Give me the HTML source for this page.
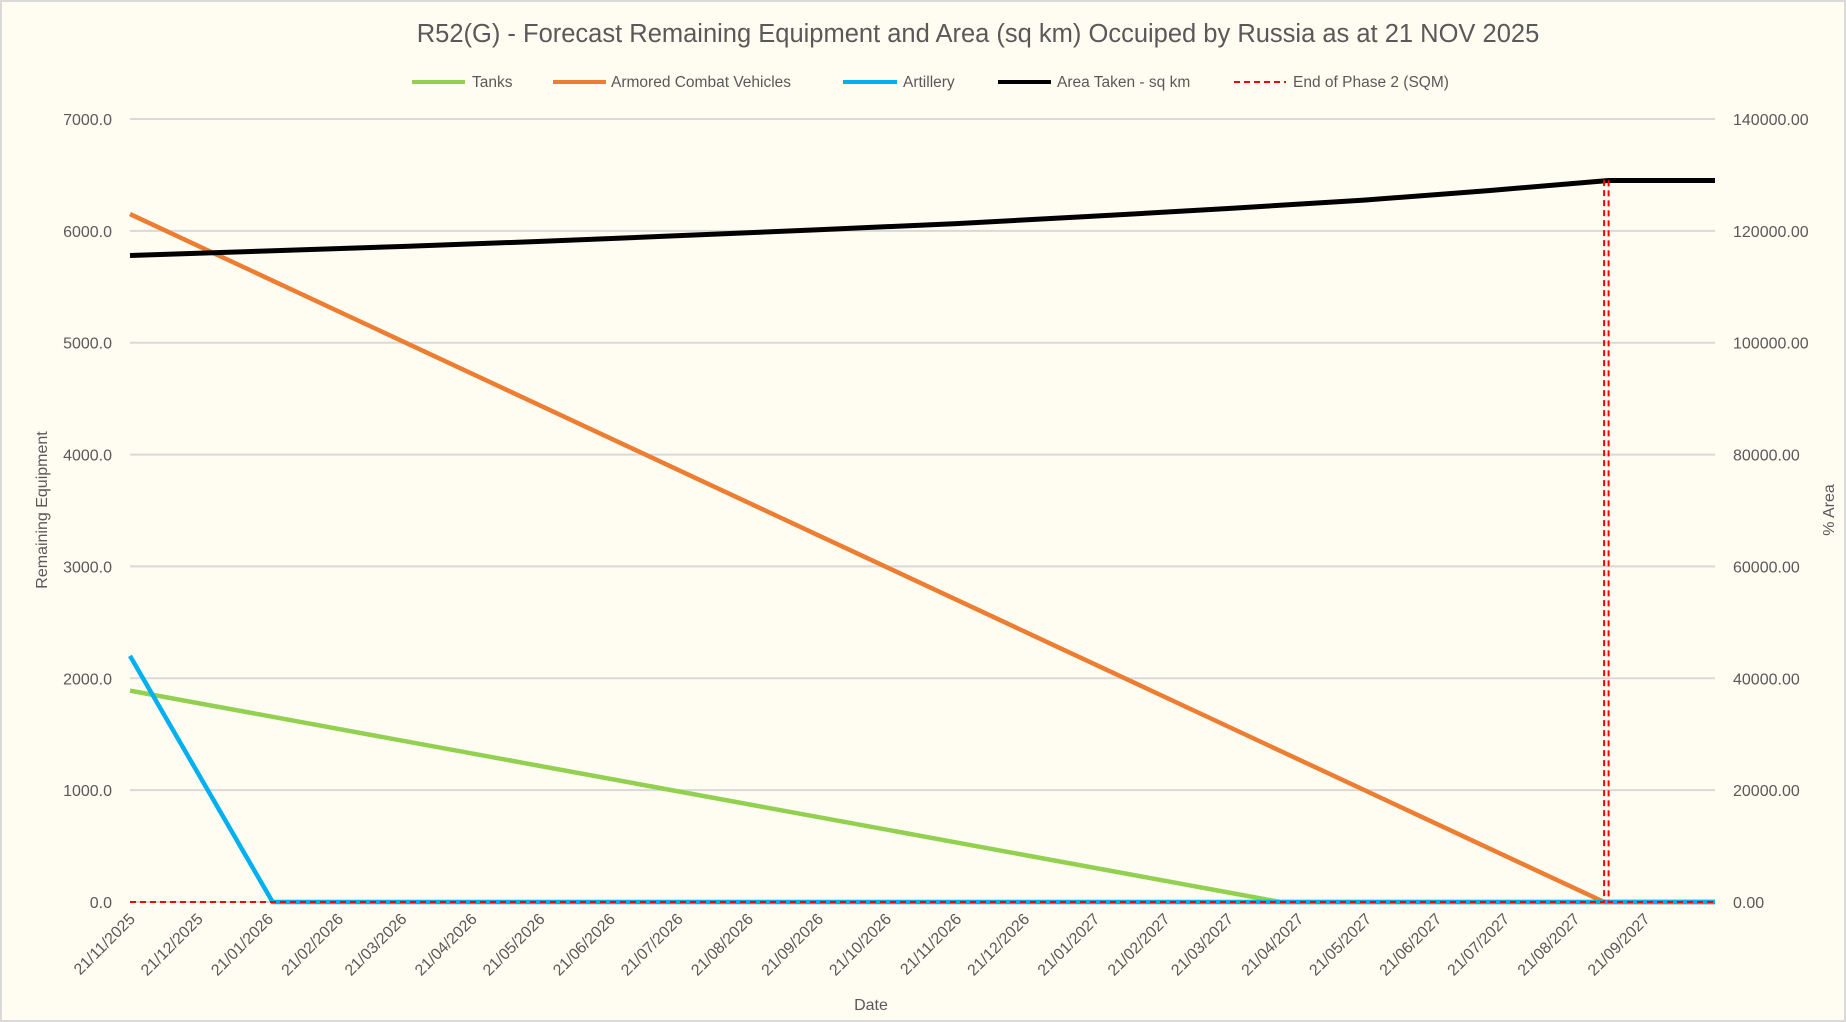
<!DOCTYPE html>
<html><head><meta charset="utf-8">
<style>
html,body{margin:0;padding:0;background:#fff;}
svg{display:block;font-family:"Liberation Sans",sans-serif;}
</style></head>
<body>
<svg id="chart" width="1846" height="1022" viewBox="0 0 1846 1022">
<rect x="1" y="1" width="1844" height="1020" fill="#fffcf2" stroke="#d9d9d9" stroke-width="2"/>
<text x="978" y="42" text-anchor="middle" font-size="25.5" fill="#595959">R52(G) - Forecast Remaining Equipment and Area (sq km) Occuiped by Russia as at 21 NOV 2025</text>
<g id="legend" font-size="15.5" fill="#595959">
 <g><line x1="412" y1="82" x2="465" y2="82" stroke="#92d050" stroke-width="4"/><text x="472" y="87">Tanks</text></g>
 <g><line x1="553" y1="82" x2="606" y2="82" stroke="#ed7d31" stroke-width="4"/><text x="611" y="87">Armored Combat Vehicles</text></g>
 <g><line x1="843" y1="82" x2="897" y2="82" stroke="#00b0f0" stroke-width="4"/><text x="903" y="87">Artillery</text></g>
 <g><line x1="998" y1="82" x2="1051" y2="82" stroke="#000" stroke-width="4"/><text x="1057" y="87">Area Taken - sq km</text></g>
 <g><line x1="1234" y1="82" x2="1286" y2="82" stroke="#ff0000" stroke-width="2" stroke-dasharray="6,4"/><text x="1293" y="87">End of Phase 2 (SQM)</text></g>
</g>
<g id="grid"></g>
<g id="series"></g>
<g id="axes"></g>
<text transform="translate(47,510) rotate(-90)" text-anchor="middle" font-size="16" fill="#595959">Remaining Equipment</text>
<text transform="translate(1834,510) rotate(-90)" text-anchor="middle" font-size="16" fill="#595959">% Area</text>
<text x="871" y="1010" text-anchor="middle" font-size="16" fill="#595959">Date</text>
</svg>
<script>
// data (day offsets from 21/11/2025)
const totalDays = 700;
const leftTicks = [0,1000,2000,3000,4000,5000,6000,7000];
const rightTicks = [0,20000,40000,60000,80000,100000,120000,140000];
const tanksDays = [0,508,700];
const tanksVals = [1890,0,0];
const acvDays = [0,651,700];
const acvVals = [6150,0,0];
const artDays = [0,63,700];
const artVals = [2200,0,0];
const areaDays = [0,60,120,180,240,304,365,425,485,545,600,653,700];
const areaVals = [115600,116400,117200,118100,119100,120200,121300,122600,124000,125500,127200,129000,129000];
const phaseDays = [0,651,651,653,653,700];
const phaseVals = [0,0,129000,129000,0,0];

const L=130,R=1715,T=119,B=902;
const x = d => L + d/totalDays*(R-L);
const yL = v => B - v/7000*(B-T);
const yR = v => B - v/140000*(B-T);
const NS="http://www.w3.org/2000/svg";
function mk(tag,attrs,parent){const e=document.createElementNS(NS,tag);for(const k in attrs)e.setAttribute(k,attrs[k]);parent.appendChild(e);return e;}
const grid=document.getElementById('grid'),axes=document.getElementById('axes'),series=document.getElementById('series');
leftTicks.forEach((v,i)=>{
  const gl=mk('line',{x1:L,x2:R,y1:yL(v),y2:yL(v),stroke:'#d9d9d9','stroke-width':2},grid);
  
  
  const t=mk('text',{x:112,y:yL(v)+6,'text-anchor':'end','font-size':16,fill:'#595959'},axes);
  t.textContent=v.toFixed(1);
  
  
});
rightTicks.forEach(v=>{
  const t=mk('text',{x:1733,y:yR(v)+6,'font-size':16,fill:'#595959'},axes);
  t.textContent=v.toFixed(2);
  
  
});
const start=Date.UTC(2025,10,21);
for(let m=0;m<23;m++){
  const dt=new Date(Date.UTC(2025,10+m,21));
  const d=(dt-start)/86400000;
  const lbl=String(dt.getUTCDate()).padStart(2,'0')+'/'+String(dt.getUTCMonth()+1).padStart(2,'0')+'/'+dt.getUTCFullYear();
  const t=mk('text',{transform:`translate(${x(d)+6},${920}) rotate(-45)`,'text-anchor':'end','font-size':16,fill:'#595959'},axes);
  t.textContent=lbl;
  
  
}
function line(days,vals,yf,color,w,name,dash){
  const pts=days.map((d,i)=>x(d).toFixed(1)+','+yf(vals[i]).toFixed(1)).join(' ');
  const p=mk('polyline',{points:pts,fill:'none',stroke:color,'stroke-width':w,'stroke-linejoin':'round'},series);
  if(dash)p.setAttribute('stroke-dasharray',dash);
  
  
}
line(tanksDays,tanksVals,yL,'#92d050',4.5,'tanks-line');
line(acvDays,acvVals,yL,'#ed7d31',4.5,'acv-line');
line(artDays,artVals,yL,'#00b0f0',4.5,'artillery-line');
line(areaDays,areaVals,yR,'#000000',5,'area-line');
line(phaseDays,phaseVals,yR,'#ff0000',2,'phase2-line','6,4');
</script>
</body></html>
